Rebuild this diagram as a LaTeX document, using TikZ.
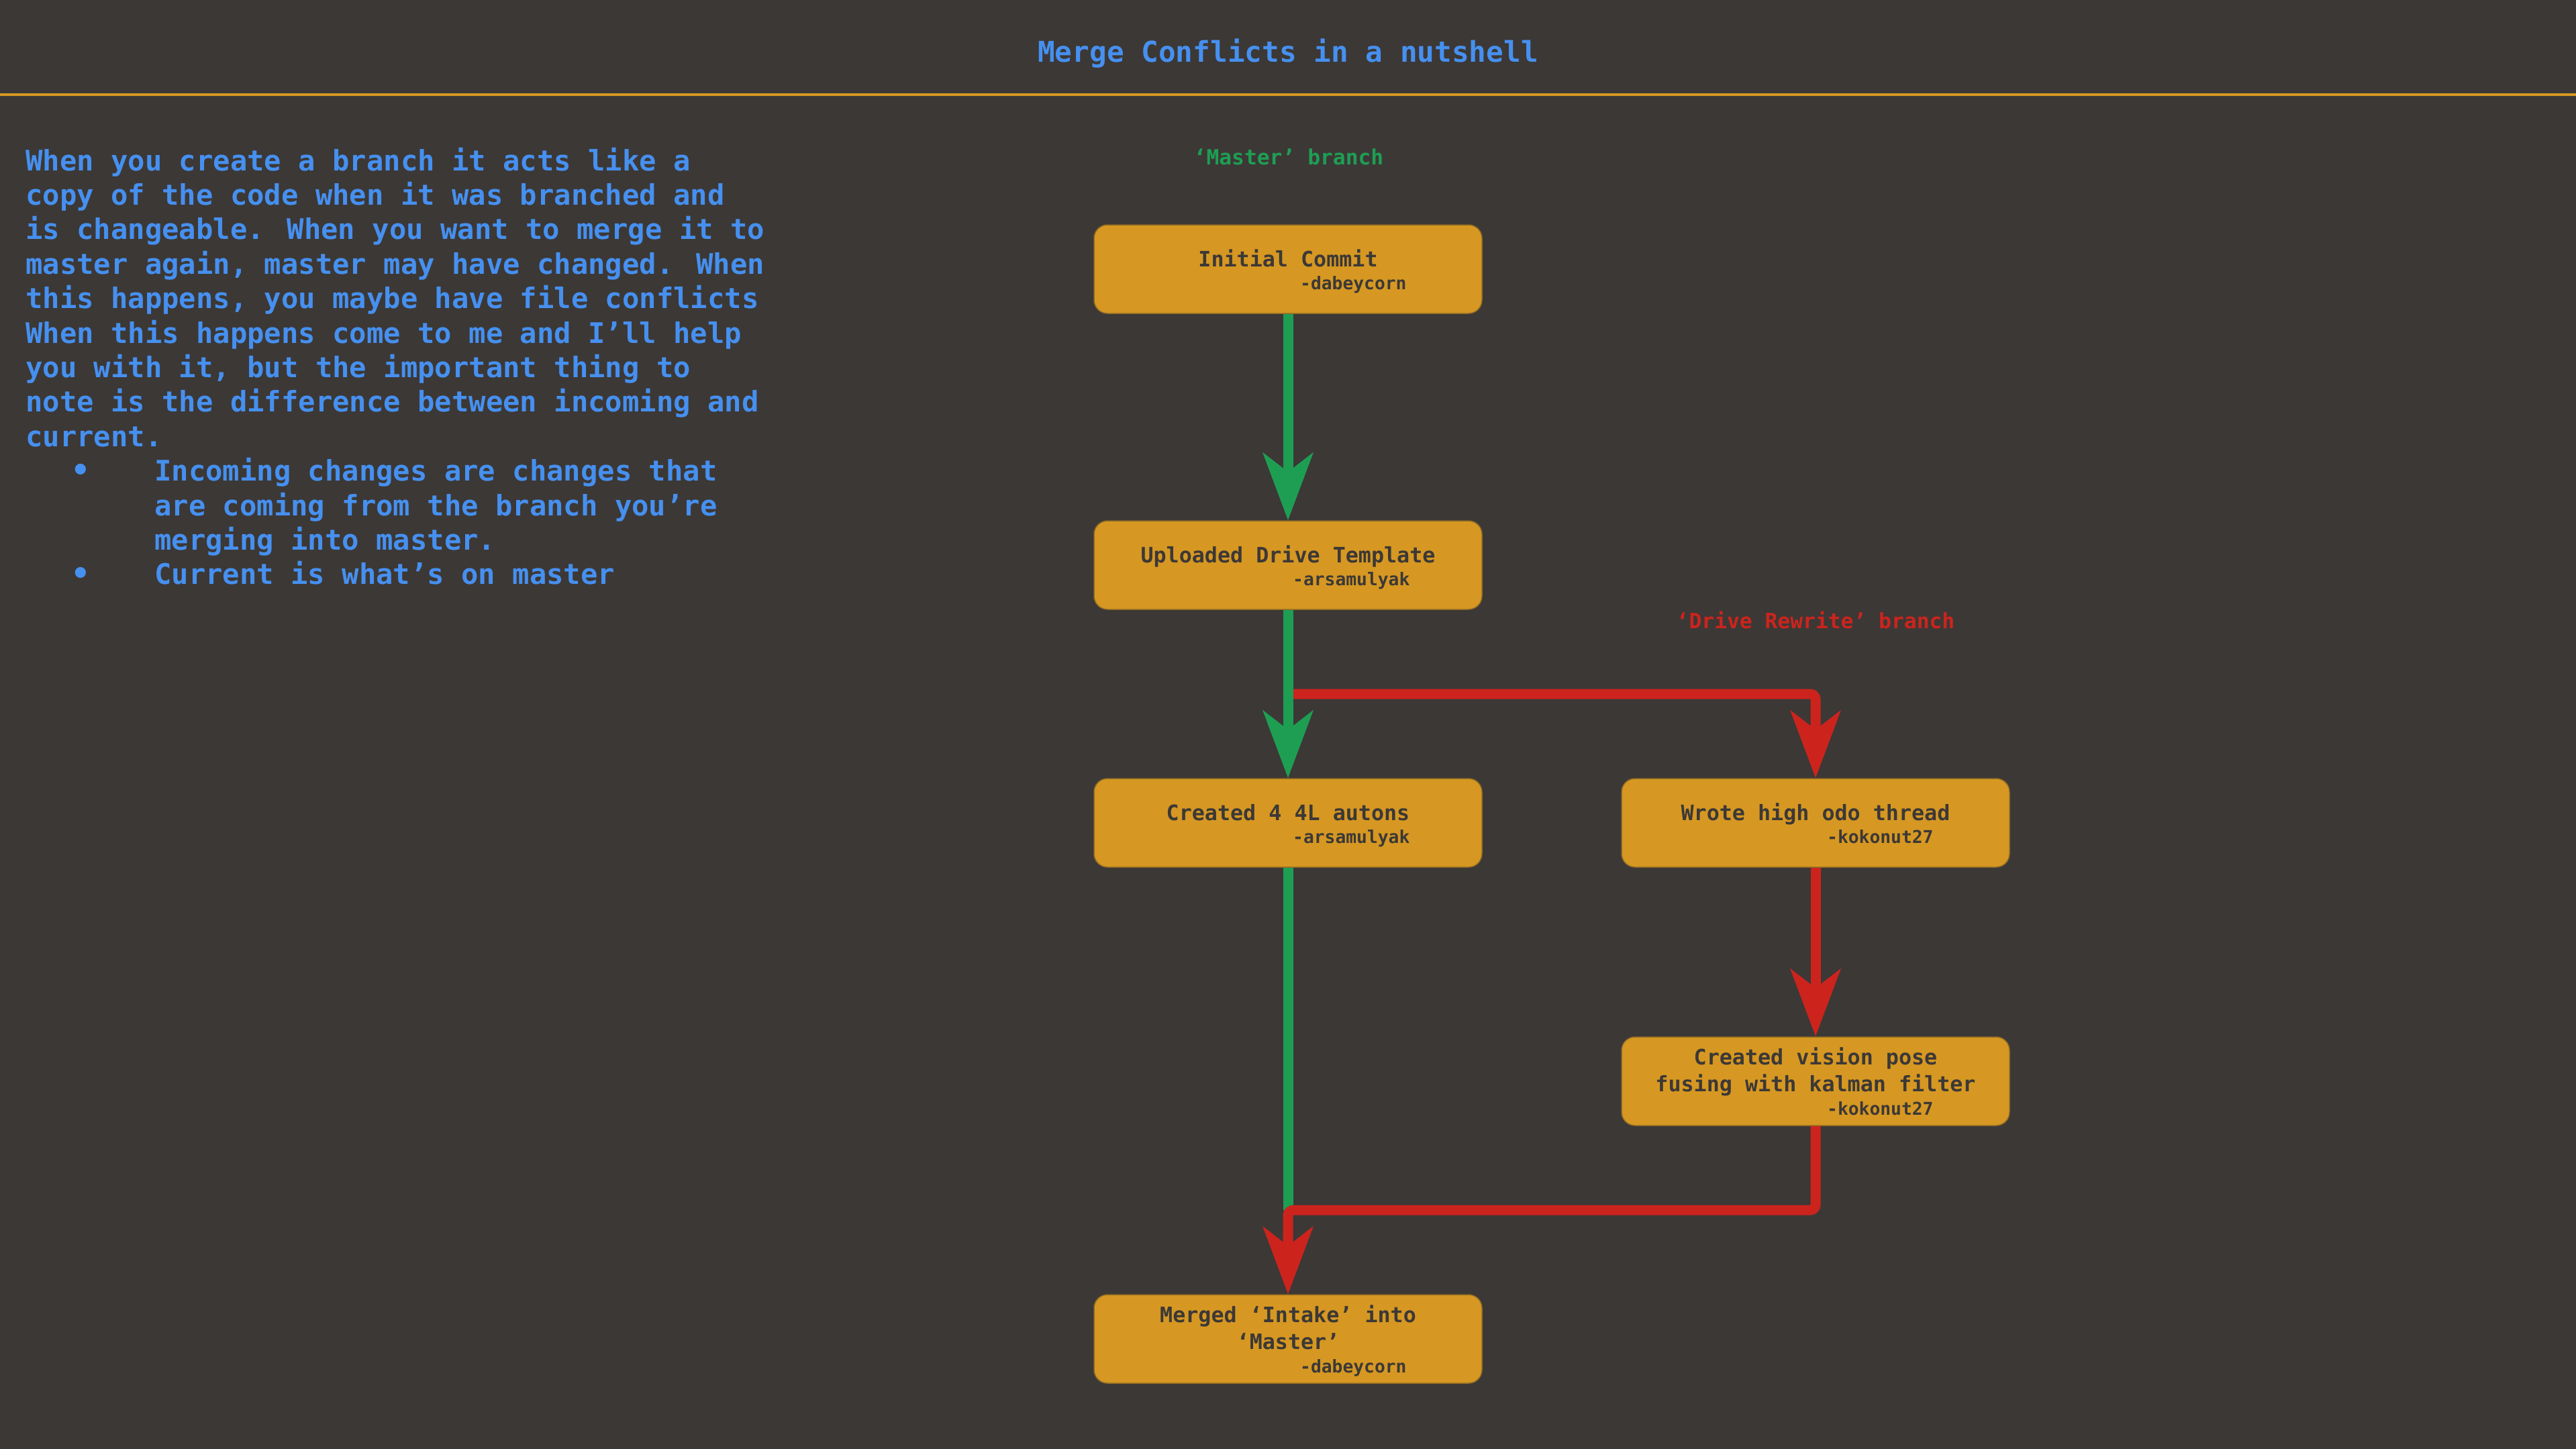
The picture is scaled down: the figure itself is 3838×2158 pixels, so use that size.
\documentclass[tikz,border=0pt]{standalone}
\usepackage{fontspec}
\setmainfont{DejaVu Sans Mono}
\usetikzlibrary{arrows.meta,calc}
\definecolor{bg}{HTML}{3C3836}
\definecolor{accent}{HTML}{D79921}
\definecolor{boxfill}{HTML}{D69822}
\definecolor{boxedge}{HTML}{8F6A24}
\definecolor{boxtext}{HTML}{3C3836}
\definecolor{txtblue}{HTML}{4690F0}
\definecolor{gitgreen}{HTML}{1E9E53}
\definecolor{gitred}{HTML}{CC241D}
\tikzset{
  commit/.style={draw=boxedge, line width=1.5pt, fill=boxfill, rounded corners=20pt,
    minimum width=578pt, minimum height=132pt, inner sep=0pt},
  ctitle/.style={font=\fontsize{31.7}{40}\selectfont\bfseries, text=boxtext, anchor=base, inner sep=0pt},
  cauthor/.style={font=\fontsize{26.3}{32}\selectfont\bfseries, text=boxtext, anchor=base west, inner sep=0pt},
  para/.style={font=\fontsize{42.2}{51.4}\selectfont\bfseries, text=txtblue, anchor=base west, inner sep=0pt},
  bul/.style={font=\fontsize{46}{51.4}\selectfont\bfseries, text=txtblue, anchor=base, inner sep=0pt},
  branchlbl/.style={font=\fontsize{31.3}{38}\selectfont\bfseries, anchor=base, inner sep=0pt},
  link/.style={line width=15pt, -{Stealth[length=100pt,width=74pt,inset=28pt]}},
  plain link/.style={line width=15pt}
}
\begin{document}
\begin{tikzpicture}[x=1pt,y=-1pt]
\useasboundingbox (0,0) rectangle (3838,2158);
\fill[bg] (-4,-4) rectangle (3842,2162);

% header
\node[font=\fontsize{42.7}{51}\selectfont\bfseries, text=txtblue, anchor=base, inner sep=0pt] (title) at (1919,92) {Merge Conflicts in a nutshell};
\coordinate (ruleL) at (0,141);
\coordinate (ruleR) at (3838,141);
\draw[accent, line width=4pt] (ruleL) -- (ruleR);

% paragraph
\node[para] (p1) at (38,254.0) {When you create a branch it acts like a};
\node[para] (p2) at (38,305.4) {copy of the code when it was branched and};
\node[para] (p3) at (38,356.8) {is changeable. When you want to merge it to};
\node[para] (p4) at (38,408.2) {master again, master may have changed. When};
\node[para] (p5) at (38,459.6) {this happens, you maybe have file conflicts};
\node[para] (p6) at (38,511.0) {When this happens come to me and I’ll help};
\node[para] (p7) at (38,562.4) {you with it, but the important thing to};
\node[para] (p8) at (38,613.8) {note is the difference between incoming and};
\node[para] (p9) at (38,665.2) {current.};
\node[bul] (b1) at (120,716.6) {•};
\node[para] (p10) at (230,716.6) {Incoming changes are changes that};
\node[para] (p11) at (230,768.0) {are coming from the branch you’re};
\node[para] (p12) at (230,819.4) {merging into master.};
\node[bul] (b2) at (120,870.8) {•};
\node[para] (p13) at (230,870.8) {Current is what’s on master};

% branch labels
\node[branchlbl, text=gitgreen] (lblM) at (1920,245) {‘Master’ branch};
\node[branchlbl, text=gitred] (lblR) at (2705,936) {‘Drive Rewrite’ branch};

% commits
\node[commit] (n1) at (1919,401) {};
\node[commit] (n2) at (1919,842) {};
\node[commit] (n3) at (1919,1226) {};
\node[commit] (n4) at (2705,1226) {};
\node[commit] (n5) at (2705,1611) {};
\node[commit] (n6) at (1919,1995) {};

\node[ctitle] (n1t) at ($(n1.center)+(0,-4)$) {Initial Commit};
\node[cauthor] (n1a) at ($(n1.center)+(18,30)$) {-dabeycorn};
\node[ctitle] (n2t) at ($(n2.center)+(0,-4)$) {Uploaded Drive Template};
\node[cauthor] (n2a) at ($(n2.center)+(7,30)$) {-arsamulyak};
\node[ctitle] (n3t) at ($(n3.center)+(0,-4)$) {Created 4 4L autons};
\node[cauthor] (n3a) at ($(n3.center)+(7,30)$) {-arsamulyak};
\node[ctitle] (n4t) at ($(n4.center)+(0,-4)$) {Wrote high odo thread};
\node[cauthor] (n4a) at ($(n4.center)+(17,30)$) {-kokonut27};
\node[ctitle] (n5t) at ($(n5.center)+(0,-25)$) {Created vision pose};
\node[ctitle] (n5u) at ($(n5.center)+(0,15)$) {fusing with kalman filter};
\node[cauthor] (n5a) at ($(n5.center)+(17,50)$) {-kokonut27};
\node[ctitle] (n6t) at ($(n6.center)+(0,-25)$) {Merged ‘Intake’ into};
\node[ctitle] (n6u) at ($(n6.center)+(0,15)$) {‘Master’};
\node[cauthor] (n6a) at ($(n6.center)+(18,50)$) {-dabeycorn};

% connectors
\coordinate (split) at ($(n2.south)!0.5!(n3.north)$);
\coordinate (joinmid) at ($(n5.south)!0.5!(n6.north)$);
\coordinate (join) at (n6.north |- joinmid);

\draw[link, gitred, rounded corners=8pt] (split) -| (n4.north);
\draw[link, gitgreen] (n1.south) -- (n2.north);
\draw[link, gitgreen] (n2.south) -- (n3.north);
\draw[link, gitred] (n4.south) -- (n5.north);
\draw[plain link, gitgreen] (n3.south) -- (join);
\draw[link, gitred, rounded corners=8pt] (n5.south) |- (join) -- (n6.north);
\end{tikzpicture}
\end{document}
